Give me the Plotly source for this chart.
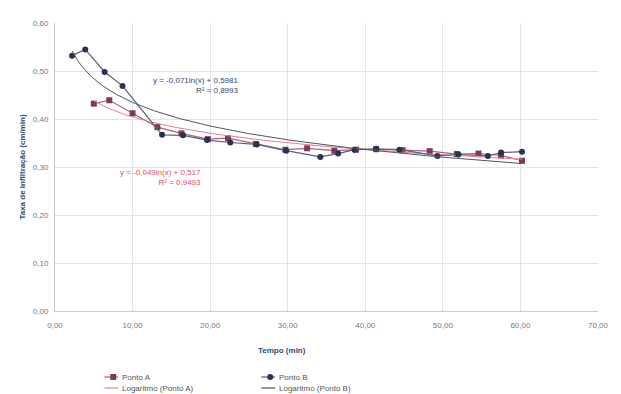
import numpy as np
import plotly.graph_objects as go

# Infiltration test readings (time in minutes, rate in cm/min)
tempo_a = [5.0, 7.0, 10.0, 13.2, 16.3, 19.7, 22.3, 25.9, 29.7, 32.5, 36.0, 38.8, 41.4, 44.8, 48.3, 51.8, 54.6, 57.5, 60.2]
taxa_a = [0.432, 0.439, 0.412, 0.383, 0.370, 0.358, 0.360, 0.348, 0.336, 0.339, 0.334, 0.336, 0.337, 0.335, 0.333, 0.327, 0.328, 0.324, 0.313]

tempo_b = [2.2, 3.9, 6.4, 8.7, 13.8, 16.5, 19.6, 22.6, 26.0, 29.8, 34.2, 36.5, 38.6, 41.4, 44.4, 49.3, 52.0, 55.8, 57.5, 60.2]
taxa_b = [0.532, 0.545, 0.498, 0.469, 0.367, 0.366, 0.356, 0.351, 0.347, 0.334, 0.321, 0.328, 0.336, 0.338, 0.336, 0.323, 0.326, 0.323, 0.330, 0.332]

# Logarithmic fits y = a*ln(x) + b, as reported
fit_a = {"a": -0.049, "b": 0.517, "r2": "0,9493"}
fit_b = {"a": -0.071, "b": 0.5981, "r2": "0,8993"}

x_ticks = [0, 10, 20, 30, 40, 50, 60, 70]
y_ticks = [0.0, 0.1, 0.2, 0.3, 0.4, 0.5, 0.6]

COR_A = "#7a3b57"
LINHA_A = "#a9637f"
TEND_A = "#e5808c"
COR_B = "#2c3150"
LINHA_B = "#5a5f7a"
TEND_B = "#4d5566"

W, H = 621, 394
ML, MR, MT, MB = 55, 16, 23, 83
PW, PH = W - ML - MR, H - MT - MB


def px_x(p):
    # pixel column -> paper fraction
    return (p - ML) / PW


def px_y(p):
    # pixel row -> paper fraction
    return (H - MB - p) / PH


xa = np.linspace(min(tempo_a), max(tempo_a), 200)
xb = np.linspace(min(tempo_b), max(tempo_b), 200)

fig = go.Figure()
fig.add_trace(go.Scatter(
    x=tempo_a, y=taxa_a, mode="lines+markers", name="Ponto A",
    line=dict(color=LINHA_A, width=1.2),
    marker=dict(symbol="square", size=6, color=COR_A)))
fig.add_trace(go.Scatter(
    x=xa, y=fit_a["a"] * np.log(xa) + fit_a["b"], mode="lines",
    name="Logaritmo (Ponto A)", line=dict(color=TEND_A, width=1)))
fig.add_trace(go.Scatter(
    x=tempo_b, y=taxa_b, mode="lines+markers", name="Ponto B",
    line=dict(color=LINHA_B, width=1.2),
    marker=dict(symbol="circle", size=6, color=COR_B)))
fig.add_trace(go.Scatter(
    x=xb, y=fit_b["a"] * np.log(xb) + fit_b["b"], mode="lines",
    name="Logaritmo (Ponto B)", line=dict(color=TEND_B, width=1)))


def fmt(v, d):
    return f"{v:.{d}f}".replace(".", ",")


fig.add_annotation(
    x=24.0, y=0.469, xref="x", yref="y", xanchor="right", yanchor="middle", showarrow=False,
    text=f"y = {fmt(fit_b['a'], 3)}ln(x) + {fmt(fit_b['b'], 4)}<br>R² = {fit_b['r2']}",
    align="right", font=dict(size=8, color="#34466b"))
fig.add_annotation(
    x=19.1, y=0.278, xref="x", yref="y", xanchor="right", yanchor="middle", showarrow=False,
    text=f"y = {fmt(fit_a['a'], 3)}ln(x) + {fmt(fit_a['b'], 3)}<br>R² = {fit_a['r2']}",
    align="right", font=dict(size=8, color="#e0505c"))

# X axis title, set slightly left of centre
fig.add_annotation(
    x=px_x(285), y=px_y(350), xref="paper", yref="paper", xanchor="center", yanchor="middle",
    showarrow=False, text="<b>Tempo (min)</b>", font=dict(size=8, color="#2f4a72"))

# Legend drawn as two compact columns
legend_items = [
    ("Ponto A", 114, 377, LINHA_A, COR_A, "square"),
    ("Logaritmo (Ponto A)", 114, 388, TEND_A, None, None),
    ("Ponto B", 273, 377, LINHA_B, COR_B, "circle"),
    ("Logaritmo (Ponto B)", 273, 388, TEND_B, None, None),
]
for label, cx, cy, lc, mc, sym in legend_items:
    fig.add_shape(type="line", xref="paper", yref="paper",
                  x0=px_x(cx - 9), x1=px_x(cx + 5), y0=px_y(cy), y1=px_y(cy),
                  line=dict(color=lc, width=1.2))
    if sym:
        r = 3
        fig.add_shape(type="rect" if sym == "square" else "circle",
                      xref="paper", yref="paper",
                      x0=px_x(cx - r), x1=px_x(cx + r), y0=px_y(cy + r), y1=px_y(cy - r),
                      fillcolor=mc, line=dict(color=mc, width=0))
    fig.add_annotation(
        x=px_x(cx + 7), y=px_y(cy), xref="paper", yref="paper",
        xanchor="left", yanchor="middle",
        showarrow=False, text=label, font=dict(size=8, color="#555555"))

fig.update_layout(
    width=W, height=H,
    margin=dict(l=ML, r=MR, t=MT, b=MB),
    paper_bgcolor="white", plot_bgcolor="white",
    separators=",.",
    font=dict(family="Liberation Sans, Arial, sans-serif", size=8, color="#666666"),
    showlegend=False,
)
fig.update_xaxes(
    range=[0, 70], tickvals=x_ticks, tickformat=".2f",
    showgrid=True, gridcolor="#dfe4ec", gridwidth=1,
    showline=True, linecolor="#c8ccd4", linewidth=1, zeroline=False,
    ticks="outside", ticklen=6, tickcolor="rgba(0,0,0,0)",
    tickfont=dict(size=8, color="#777777"))
fig.update_yaxes(
    range=[0, 0.6], tickvals=y_ticks, tickformat=".2f",
    showgrid=True, gridcolor="#dfe4ec", gridwidth=1,
    showline=True, linecolor="#c8ccd4", linewidth=1, zeroline=False,
    ticks="outside", ticklen=4, tickcolor="rgba(0,0,0,0)",
    tickfont=dict(size=8, color="#777777"),
    title=dict(text="<b>Taxa de infiltração (cm/min)</b>", font=dict(size=8, color="#2f4a72"), standoff=6))

fig.write_html("out.html")
